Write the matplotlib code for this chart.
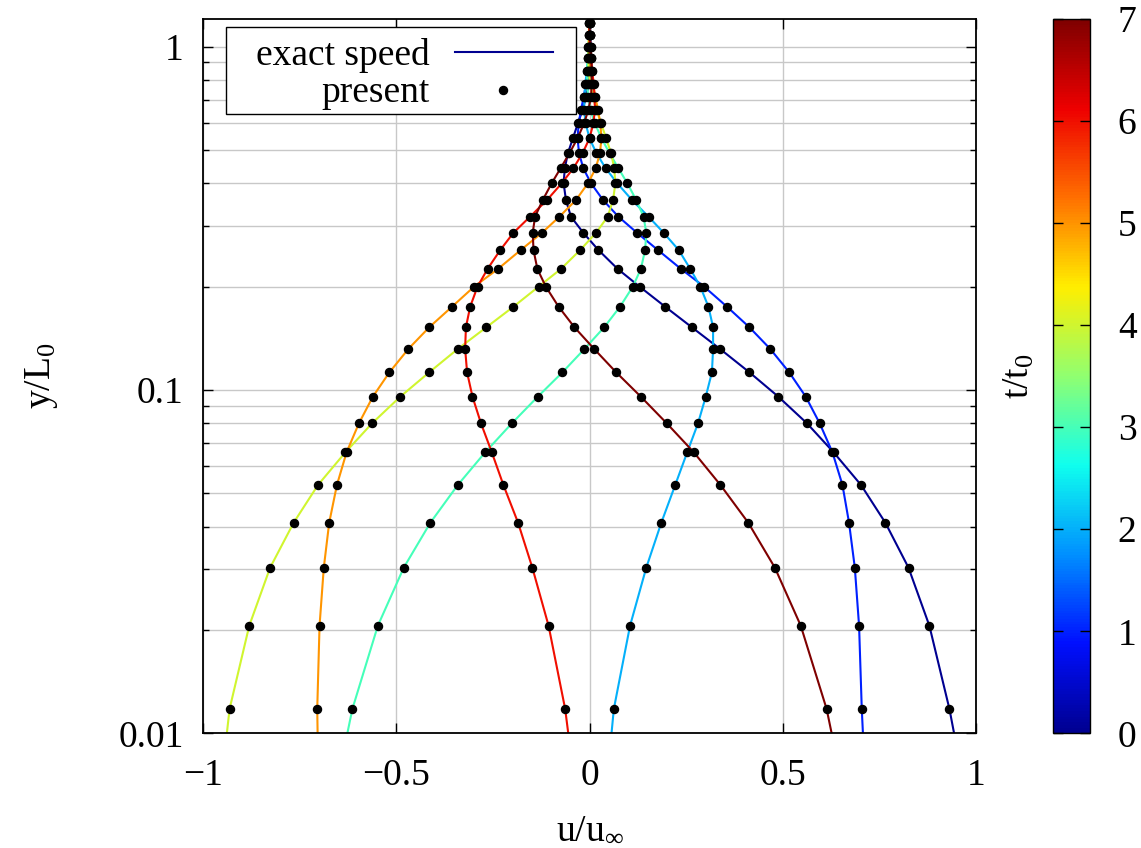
import matplotlib
matplotlib.use("Agg")
import matplotlib.pyplot as plt
import matplotlib.ticker as mticker
from matplotlib.patches import Rectangle
from matplotlib.lines import Line2D
from matplotlib.cm import ScalarMappable
from matplotlib.colors import Normalize, LinearSegmentedColormap

# ---------------- data ----------------
y_levels = [0.01177, 0.02058, 0.03037, 0.04107, 0.05289, 0.06585, 0.07998, 0.0956,
            0.1126, 0.1317, 0.1523, 0.1748, 0.1999, 0.2252, 0.2557, 0.2870,
            0.3197, 0.3576, 0.4000, 0.4422, 0.4892, 0.5410, 0.5981, 0.6542,
            0.7150, 0.7787, 0.8468, 0.9252, 1.0, 1.078, 1.176]

times = [0, 1, 2, 3, 4, 5, 6, 7]

u_t0 = [0.932, 0.880, 0.826, 0.766, 0.703, 0.632, 0.563, 0.489, 0.414, 0.338, 0.265,
        0.196, 0.130, 0.073, 0.023, -0.016, -0.048, -0.061, -0.067, -0.064, -0.056,
        -0.043, -0.030, -0.018, -0.009, -0.002, 0.002, 0.003, 0.003, 0.002, 0.001]
u_t1 = [0.705, 0.698, 0.687, 0.672, 0.655, 0.629, 0.596, 0.560, 0.517, 0.468, 0.414,
        0.356, 0.297, 0.237, 0.177, 0.123, 0.075, 0.035, 0.004, -0.016, -0.027,
        -0.031, -0.028, -0.022, -0.015, -0.009, -0.004, -0.001, 0.001, 0.001, 0.001]
u_t2 = [0.063, 0.105, 0.147, 0.186, 0.222, 0.253, 0.281, 0.301, 0.317, 0.320, 0.320,
        0.308, 0.287, 0.261, 0.231, 0.192, 0.153, 0.110, 0.072, 0.042, 0.018,
        0.000, -0.010, -0.014, -0.013, -0.011, -0.007, -0.004, -0.001, 0.000, 0.001]
u_t3 = [-0.614, -0.548, -0.481, -0.412, -0.341, -0.270, -0.201, -0.134, -0.070, -0.013, 0.038,
        0.079, 0.112, 0.133, 0.144, 0.147, 0.140, 0.121, 0.098, 0.075, 0.052,
        0.031, 0.014, 0.003, -0.004, -0.006, -0.006, -0.005, -0.003, -0.001, 0.000]
u_t4 = [-0.932, -0.881, -0.827, -0.766, -0.703, -0.632, -0.563, -0.490, -0.415, -0.341, -0.267,
        -0.197, -0.132, -0.074, -0.024, 0.017, 0.047, 0.061, 0.067, 0.064, 0.056,
        0.043, 0.030, 0.018, 0.009, 0.002, -0.002, -0.003, -0.003, -0.002, -0.001]
u_t5 = [-0.705, -0.699, -0.688, -0.674, -0.654, -0.629, -0.597, -0.561, -0.518, -0.469, -0.415,
        -0.356, -0.299, -0.237, -0.178, -0.123, -0.078, -0.035, -0.004, 0.016, 0.027,
        0.031, 0.028, 0.022, 0.015, 0.009, 0.004, 0.001, -0.001, -0.001, -0.001]
u_t6 = [-0.063, -0.106, -0.148, -0.185, -0.223, -0.253, -0.281, -0.303, -0.317, -0.322, -0.320,
        -0.309, -0.290, -0.264, -0.231, -0.197, -0.154, -0.110, -0.072, -0.042, -0.018,
        0.000, 0.010, 0.014, 0.013, 0.011, 0.007, 0.004, 0.001, 0.000, -0.001]
u_t7 = [0.614, 0.547, 0.480, 0.411, 0.339, 0.270, 0.200, 0.133, 0.069, 0.012, -0.039,
        -0.080, -0.113, -0.135, -0.145, -0.147, -0.141, -0.121, -0.098, -0.075, -0.052,
        -0.031, -0.014, -0.003, 0.004, 0.006, 0.006, 0.005, 0.003, 0.001, 0.000]

# exact-speed line end points (bottom axis crossing and top)
y_line_bottom = 0.01
u_line_bottom = [0.944, 0.708, 0.057, -0.627, -0.939, -0.704, -0.055, 0.627]
y_line_top = 1.2
u_line_top = [0.0, 0.0, 0.0, 0.0, 0.0, 0.0, 0.0, 0.0]

series = [u_t0, u_t1, u_t2, u_t3, u_t4, u_t5, u_t6, u_t7]

x_ticks = [-1, -0.5, 0, 0.5, 1]
y_ticks = [0.01, 0.1, 1]
y_tick_labels = ["0.01", "0.1", "1"]
cbar_ticks = [0, 1, 2, 3, 4, 5, 6, 7]

# gnuplot-style jet palette
palette_colors = ["#000090", "#000fff", "#0090ff", "#0fffee", "#90ff70",
                  "#ffee00", "#ff7000", "#ee0000", "#7f0000"]

# ---------------- style ----------------
plt.rcParams["font.family"] = ["Liberation Serif", "DejaVu Serif"]
plt.rcParams["mathtext.fontset"] = "custom"
plt.rcParams["mathtext.rm"] = "Liberation Serif"
plt.rcParams["mathtext.it"] = "Liberation Serif:italic"
plt.rcParams["mathtext.default"] = "regular"
plt.rcParams["font.size"] = 27

W, H = 1141, 848
fig = plt.figure(figsize=(W / 100, H / 100), dpi=100)

ax_l, ax_r, ax_t, ax_b = 203.3, 975.7, 19.0, 733.3
ax = fig.add_axes([ax_l / W, 1 - ax_b / H, (ax_r - ax_l) / W, (ax_b - ax_t) / H])

cmap = LinearSegmentedColormap.from_list("gp_jet", palette_colors, N=256)
norm = Normalize(vmin=0, vmax=7)

for t, u in zip(times, series):
    col = cmap(norm(t))
    xs = [u_line_bottom[t]] + u + [u_line_top[t]]
    ys = [y_line_bottom] + y_levels + [y_line_top]
    ax.plot(xs, ys, color=col, lw=1.5, zorder=2)
for t, u in zip(times, series):
    ax.plot(u, y_levels, ls="none", marker="o", ms=5.8, color="black", zorder=3)

ax.set_yscale("log")
ax.set_xlim(-1, 1)
ax.set_ylim(0.01, 1.204)
ax.set_xticks(x_ticks)
ax.xaxis.set_major_formatter(mticker.FuncFormatter(lambda v, p: ("%g" % v).replace("-", "\u2212")))
ax.set_yticks(y_ticks)
ax.set_yticklabels(y_tick_labels)
ax.yaxis.set_minor_locator(mticker.LogLocator(base=10, subs=range(2, 10)))
ax.yaxis.set_minor_formatter(mticker.NullFormatter())

ax.grid(True, which="major", axis="x", color="#c8c8c8", lw=1.0, zorder=0)
ax.grid(True, which="both", axis="y", color="#c8c8c8", lw=1.0, zorder=0)
ax.set_axisbelow(True)

ax.tick_params(which="both", direction="in", top=True, right=True, width=1.0, colors="black")
ax.tick_params(which="major", length=7)
ax.tick_params(which="minor", length=4)
ax.tick_params(axis="x", which="major", pad=18)
ax.tick_params(axis="y", which="major", pad=14)
for s in ax.spines.values():
    s.set_linewidth(1.3)

ax.set_xlabel("u/u$_{\\infty}$", labelpad=14)
ax.set_ylabel("y/L$_0$", labelpad=42)

# legend (gnuplot style: right-aligned text, sample on right)
def px2ax(x, y):
    return ((x - ax_l) / (ax_r - ax_l), (ax_b - y) / (ax_b - ax_t))

x0, y0 = px2ax(225.7, 114.3)
x1, y1 = px2ax(576.0, 27.3)
ax.add_patch(Rectangle((x0, y0), x1 - x0, y1 - y0, transform=ax.transAxes,
                       facecolor="white", edgecolor="black", lw=1.0, zorder=5))
tx, ty = px2ax(430, 65)
ax.text(tx, ty, "exact speed", transform=ax.transAxes, ha="right", va="baseline", zorder=6)
tx, ty = px2ax(430, 102)
ax.text(tx, ty, "present", transform=ax.transAxes, ha="right", va="baseline", zorder=6)
la, lb_ = px2ax(455, 51.7)
lc, ld = px2ax(553, 51.7)
ax.add_line(Line2D([la, lc], [lb_, ld], transform=ax.transAxes, color=cmap(0.0), lw=1.5, zorder=6))
da, db = px2ax(503.3, 90)
ax.add_line(Line2D([da], [db], transform=ax.transAxes, ls="none", marker="o", ms=5.8,
                   color="black", zorder=6))

# colorbar
cb_l, cb_r = 1053.0, 1090.0
cax = fig.add_axes([cb_l / W, 1 - ax_b / H, (cb_r - cb_l) / W, (ax_b - ax_t) / H])
sm = ScalarMappable(norm=norm, cmap=cmap)
cb = fig.colorbar(sm, cax=cax, ticks=cbar_ticks)
cb.outline.set_linewidth(1.0)
cax.tick_params(direction="in", left=True, right=True, length=7, width=1.0, pad=20)
cax.yaxis.set_label_position("left")
cax.set_ylabel("t/t$_0$", labelpad=12)

fig.savefig("out.png", dpi=100)
